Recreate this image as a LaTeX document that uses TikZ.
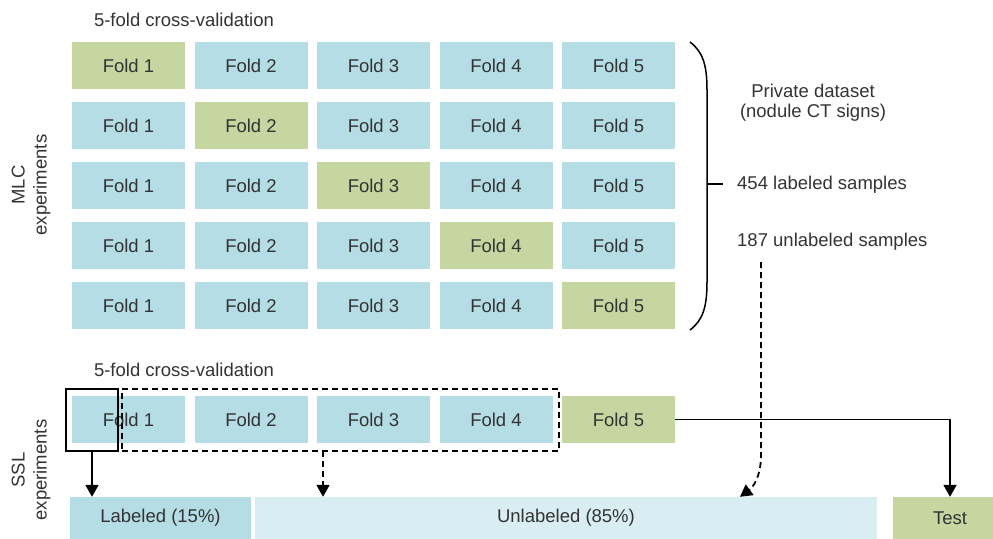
\documentclass[tikz,border=0pt]{standalone}
\usepackage{fontspec}
\setmainfont{Liberation Sans}
\usetikzlibrary{arrows.meta, positioning}
\definecolor{foldblue}{RGB}{181,221,230}
\definecolor{foldgreen}{RGB}{197,214,160}
\definecolor{paleblue}{RGB}{217,238,243}
\definecolor{txt}{RGB}{51,51,51}
\tikzset{
  fold/.style={rectangle,fill=foldblue,minimum width=113pt,minimum height=47pt,inner sep=0pt,text=txt},
  bar/.style={rectangle,minimum height=42pt,inner sep=0pt,text=txt},
  lbl/.style={text=txt,inner sep=0pt},
  frame/.style={draw,line width=1.7pt,minimum width=52pt,minimum height=62pt,inner sep=0pt},
  line/.style={-{Triangle[width=13pt,length=12pt]},line width=1.8pt},
  dline/.style={line,dash pattern=on 6pt off 4pt}
}

\begin{document}
\begin{tikzpicture}[x=1pt,y=-1pt,font=\fontsize{18.5}{22}\selectfont]
\useasboundingbox (0,0) rectangle (993,538);
% MLC experiments
\node[lbl] (cv1) at (184,20) {5-fold cross-validation};
\foreach \r in {1,...,5}
  \foreach \c in {1,...,5} {
    \ifnum\r=\c \def\fc{foldgreen}\else\def\fc{foldblue}\fi
    \node[fold,fill=\fc] (m\r\c) at (6+122.5*\c,5.5+60*\r) {Fold \c};
  }
\node[lbl,rotate=90,align=center] (mlc) at (31,185) {MLC\\experiments};
\draw[line width=1.5pt] (690,42) .. controls (703,52) and (707,65) .. (707,90)
  -- (707,282) .. controls (707,307) and (703,320) .. (690,330);
\draw[line width=1.5pt] (707,184) -- (723,184);
\node[lbl,align=center,font=\fontsize{18.5}{20}\selectfont] (priv) at (813,103) {Private dataset\\(nodule CT signs)};
\node[lbl,anchor=west] (n454) at (737,185) {454 labeled samples};
\node[lbl,anchor=west] (n187) at (737,242) {187 unlabeled samples};
% SSL experiments
\node[lbl] (cv2) at (184,370) {5-fold cross-validation};
\foreach \c in {1,...,5} {
  \ifnum\c=5 \def\fc{foldgreen}\else\def\fc{foldblue}\fi
  \node[fold,fill=\fc] (s\c) at (6+122.5*\c,419.5) {Fold \c};
}
\node[lbl,rotate=90,align=center] (ssl) at (31,470) {SSL\\experiments};
\node[bar,fill=foldblue,minimum width=181pt] (lab) at (160.5,518) {Labeled (15\%)};
\node[bar,fill=paleblue,minimum width=622pt] (unl) at (566,518) {Unlabeled (85\%)};
\node[bar,fill=foldgreen,minimum width=114pt] (test) at (950,518) {Test};
\node[frame] (sbox) at (92,420) {};
\node[frame,dash pattern=on 6pt off 4pt,minimum width=437pt] (dbox) at (340.5,420) {};
\coordinate (dd) at (323,451);
\coordinate (u0) at (761,262);
\draw[line] (sbox.south) -- (sbox.south |- lab.north);
\draw[dline] (dd) -- (dd |- unl.north);
\draw[line] (s5.east) -| (test.north);
\draw[dline] (u0) -- (761,455) .. controls (761,478) and (752,488) .. ([xshift=174pt]unl.north);
\end{tikzpicture}
\end{document}
